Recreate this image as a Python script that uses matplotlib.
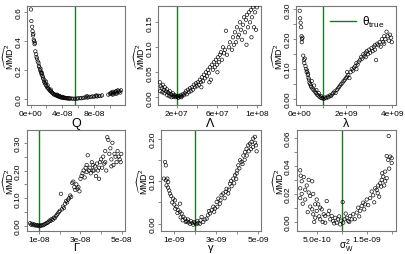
import numpy as np
import matplotlib
matplotlib.use("Agg")
import matplotlib.pyplot as plt
from matplotlib.lines import Line2D

plt.rcParams['font.family'] = ['Liberation Sans', 'DejaVu Sans']
plt.rcParams['mathtext.fontset'] = 'custom'
plt.rcParams['mathtext.rm'] = 'Liberation Sans'
plt.rcParams['mathtext.it'] = 'Liberation Sans:italic'
plt.rcParams['mathtext.bf'] = 'Liberation Sans:bold'

# ---------------- data (x in panel units, y = MMD^2 estimate) ----------------
# Q (x in 1e-8)
q_pts = [(0.05,0.62),(0.1,0.54),(0.2,0.50),(0.25,0.47),(0.3,0.44),(0.35,0.45),(0.4,0.41),(0.45,0.40),
         (0.5,0.38),(0.55,0.39),(0.6,0.33),(0.7,0.31),(0.75,0.29),(0.8,0.28),(0.9,0.26),(1.0,0.25),
         (1.05,0.23),(1.1,0.22),(1.2,0.20),(1.25,0.21),(1.3,0.19),(1.35,0.18),(1.4,0.17),(1.5,0.16),
         (1.45,0.18),(1.55,0.15),(1.6,0.14),(1.7,0.12),(1.75,0.13),(1.8,0.11),(1.9,0.10),(2.0,0.09),
         (2.1,0.08),(2.2,0.075),(2.3,0.07),(2.4,0.06),(2.5,0.055),(2.6,0.05),(2.7,0.045),(2.8,0.04),
         (2.9,0.035),(3.0,0.03),(2.55,0.065),(2.15,0.095),(1.95,0.12),(3.1,0.03),(3.2,0.025),(3.3,0.028),
         (3.4,0.02),(3.5,0.02),(3.6,0.015),(3.7,0.018),(3.8,0.012),(3.9,0.01),(4.0,0.012),(4.1,0.008),
         (4.2,0.01),(4.3,0.006),(4.4,0.008),(4.5,0.005),(4.6,0.006),(4.7,0.004),(4.8,0.005),(4.9,0.003),
         (5.0,0.004),(5.2,0.003),(5.4,0.002),(5.6,0.002),(3.35,0.03),(3.65,0.022),(4.05,0.015),
         (5.8,0.003),(6.0,0.004),(6.2,0.006),(6.4,0.005),(6.6,0.008),(6.8,0.01),(7.0,0.012),(7.2,0.01),
         (7.4,0.015),(7.6,0.013),(7.8,0.018),(8.0,0.016),(8.2,0.02),(8.4,0.018),(8.6,0.022),(8.8,0.02),
         (9.0,0.025),(7.1,0.02),(8.3,0.025),(9.8,0.03),(10.0,0.035),(10.1,0.04),(10.2,0.045),(10.3,0.035),
         (10.4,0.05),(10.5,0.04),(10.6,0.045),(10.7,0.05),(10.8,0.055),(10.9,0.04),(11.0,0.06),(11.1,0.05),
         (11.2,0.055),(11.3,0.045),(11.4,0.06),(10.35,0.03),(10.75,0.035)]
# Lambda (x in 1e7)
lam_pts = [(0.3,0.03),(0.4,0.022),(0.5,0.018),(0.6,0.025),(0.7,0.015),(0.8,0.02),(0.9,0.012),(1.0,0.016),
           (1.1,0.01),(1.2,0.008),(1.3,0.012),(1.4,0.006),(1.5,0.005),(1.6,0.008),(1.7,0.003),(1.8,0.004),
           (1.9,0.002),(2.0,0.001),(2.1,0.002),(2.2,0.003),(2.3,0.001),(2.4,0.004),(2.5,0.002),(2.6,0.006),
           (2.7,0.004),(2.8,0.008),(0.35,0.012),(0.55,0.01),(0.75,0.008),(1.05,0.004),(1.25,0.002),
           (1.45,0.0),(1.65,0.001),(1.85,0.0),(2.15,-0.001),(2.45,0.0),(2.9,0.012),(3.0,0.006),
           (3.1,0.015),(3.2,0.01),(3.3,0.018),(3.4,0.012),(3.5,0.02),(3.6,0.015),(3.7,0.025),(3.8,0.02),
           (3.9,0.028),(4.0,0.022),(4.1,0.03),(4.2,0.025),(4.3,0.035),(4.4,0.03),(4.5,0.04),(4.6,0.032),
           (4.7,0.045),(4.8,0.038),(4.9,0.05),(5.0,0.042),(5.1,0.055),(5.2,0.048),(5.3,0.06),(5.4,0.035),
           (5.5,0.065),(5.6,0.055),(5.7,0.07),(5.8,0.06),(5.9,0.075),(6.0,0.065),(6.1,0.08),(6.2,0.07),
           (6.3,0.085),(6.4,0.09),(6.5,0.075),(6.6,0.1),(6.7,0.088),(6.8,0.095),(6.9,0.133),(7.0,0.085),
           (4.45,0.02),(5.25,0.03),(6.05,0.05),(7.2,0.1),(7.3,0.11),(7.5,0.095),(7.6,0.12),(7.7,0.105),
           (7.8,0.13),(7.9,0.11),(8.0,0.14),(8.1,0.12),(8.2,0.125),(8.3,0.15),(8.4,0.135),(8.5,0.115),
           (8.6,0.145),(8.7,0.16),(8.8,0.13),(8.9,0.155),(9.0,0.165),(9.1,0.14),(9.2,0.17),(9.3,0.15),
           (9.4,0.175),(9.5,0.16),(9.6,0.18),(9.7,0.14),(9.8,0.17),(9.9,0.135),(10.0,0.18),(9.45,0.12),
           (8.95,0.105)]
# lambda (x in 1e9)
lmb_pts = [(0.0,0.295),(0.02,0.27),(0.04,0.255),(0.06,0.24),(0.08,0.21),(0.1,0.2),(0.09,0.19),(0.12,0.205),
           (0.15,0.145),(0.18,0.13),(0.2,0.12),(0.22,0.135),(0.25,0.11),(0.28,0.1),(0.3,0.09),(0.32,0.095),
           (0.35,0.08),(0.38,0.07),(0.4,0.065),(0.42,0.055),(0.45,0.05),(0.48,0.045),(0.5,0.04),(0.55,0.035),
           (0.6,0.03),(0.65,0.025),(0.7,0.02),(0.75,0.015),(0.8,0.012),(0.85,0.008),(0.9,0.005),(0.95,0.003),
           (1.0,0.002),(0.52,0.06),(0.62,0.045),(0.72,0.03),(0.82,0.02),(0.92,0.01),(0.36,0.085),
           (1.05,0.001),(1.1,0.005),(1.15,0.003),(1.2,0.008),(1.25,0.006),(1.3,0.012),(1.35,0.01),(1.4,0.015),
           (1.45,0.02),(1.5,0.025),(1.55,0.02),(1.6,0.03),(1.65,0.035),(1.7,0.04),(1.75,0.045),(1.8,0.05),
           (1.85,0.055),(1.9,0.06),(1.95,0.065),(2.0,0.07),(2.05,0.075),(2.1,0.08),(2.15,0.07),(2.2,0.09),
           (2.25,0.1),(2.3,0.095),(2.35,0.105),(2.4,0.11),(2.45,0.12),(2.5,0.115),(2.55,0.125),(2.6,0.13),
           (2.65,0.14),(2.7,0.135),(2.75,0.15),(2.8,0.145),(2.85,0.155),(2.9,0.16),(2.95,0.15),(3.0,0.165),
           (3.05,0.155),(3.1,0.17),(3.15,0.16),(3.2,0.175),(3.25,0.165),(3.3,0.13),(3.35,0.185),(3.4,0.18),
           (3.45,0.19),(3.5,0.175),(3.55,0.2),(3.6,0.19),(3.65,0.21),(3.7,0.2),(3.75,0.225),(3.8,0.21),
           (3.85,0.195),(3.9,0.215),(3.95,0.205),(3.98,0.19),(2.05,0.09),(2.45,0.1),(2.85,0.14),(3.25,0.18),
           (3.65,0.185)]
# Gamma (x in 1e-8)
gam_pts = [(0.55,0.01),(0.6,0.005),(0.65,0.008),(0.7,0.003),(0.75,0.006),(0.8,0.002),(0.85,0.004),(0.9,0.001),
           (0.95,0.003),(1.0,0.0),(1.05,0.002),(1.1,0.001),(1.15,0.004),(1.2,0.003),(1.25,0.006),(1.3,0.008),
           (1.35,0.01),(1.4,0.012),(1.45,0.015),(1.5,0.02),(1.55,0.018),(1.6,0.025),(1.65,0.022),(1.7,0.03),
           (1.75,0.028),(1.8,0.035),(1.85,0.04),(1.9,0.045),(1.95,0.05),(2.0,0.055),(2.05,0.116),(2.1,0.06),
           (2.15,0.07),(2.2,0.065),(2.25,0.08),(2.3,0.09),(2.35,0.085),(2.4,0.095),(2.45,0.1),(2.5,0.11),
           (2.55,0.105),(2.6,0.155),(2.65,0.16),(2.7,0.14),(2.75,0.13),(2.8,0.15),(2.85,0.135),(2.9,0.14),
           (2.95,0.125),(3.0,0.17),(3.05,0.18),(3.1,0.19),(3.15,0.2),(3.2,0.175),(3.25,0.21),(3.3,0.22),
           (3.35,0.255),(3.4,0.2),(3.45,0.21),(3.5,0.19),(3.55,0.23),(3.6,0.22),(3.65,0.2),(3.7,0.215),
           (3.75,0.18),(3.8,0.225),(3.85,0.2),(3.9,0.17),(3.95,0.23),(4.0,0.24),(4.05,0.21),(4.1,0.25),
           (4.15,0.225),(4.2,0.27),(4.25,0.2),(4.3,0.32),(4.35,0.31),(4.4,0.26),(4.45,0.28),(4.5,0.24),
           (4.55,0.3),(4.6,0.22),(4.65,0.26),(4.7,0.25),(4.75,0.23),(4.8,0.27),(4.85,0.25),(4.9,0.24),
           (4.95,0.23),(4.98,0.26),(3.3,0.195),(3.6,0.2),(3.9,0.21),(4.2,0.23),(4.5,0.215)]
# gamma (x in 1e-9)
gmm_pts = [(0.56,0.145),(0.6,0.137),(0.51,0.106),(0.6,0.102),(0.67,0.106),(0.71,0.098),(0.63,0.09),
           (0.76,0.078),(0.79,0.071),(0.95,0.059),(1.03,0.055),(1.27,0.047),(1.11,0.04),(1.19,0.032),
           (1.27,0.028),(1.35,0.024),(1.43,0.016),(1.51,0.012),(1.59,0.006),(1.67,0.003),(1.75,0.0),
           (1.9,-0.002),(2.06,-0.001),(2.22,0.0),(2.3,0.016),(2.38,0.004),(2.54,0.012),(2.7,0.024),
           (2.78,0.032),(2.86,0.04),(2.94,0.036),(3.02,0.051),(3.1,0.059),(3.17,0.047),(3.25,0.067),
           (3.33,0.071),(3.49,0.082),(3.57,0.071),(3.65,0.094),(3.73,0.088),(3.81,0.106),(3.89,0.114),
           (3.97,0.118),(4.05,0.137),(4.13,0.149),(4.2,0.145),(4.29,0.16),(4.37,0.168),(4.44,0.176),
           (4.52,0.184),(4.6,0.188),(4.68,0.192),(4.76,0.2),(4.84,0.204),(4.89,0.184),(4.92,0.17),
           (1.0,0.045),(1.15,0.025),(1.3,0.015),(1.4,0.008),(1.55,0.004),(1.65,0.01),(1.8,0.006),(1.85,0.002),
           (1.95,0.004),(2.0,0.001),(2.1,0.006),(2.15,0.002),(2.25,0.008),(2.45,0.01),(2.6,0.02),(2.65,0.03),
           (2.9,0.028),(3.05,0.04),(3.2,0.055),(3.4,0.06),(3.45,0.075),(3.6,0.08),(3.7,0.1),(3.85,0.095),
           (3.95,0.105),(4.0,0.125),(4.1,0.13),(4.25,0.14),(4.35,0.15),(4.45,0.16),(4.55,0.17),(4.65,0.175),
           (4.75,0.18),(4.85,0.19),(0.7,0.085),(0.85,0.065),(0.9,0.05),(1.05,0.035)]
# sigma_W^2 (x in 1e-10)
sig_pts = [(19.4,0.0612),(1.7,0.0368),(1.8,0.033),(2.4,0.032),(3.4,0.030),(4.1,0.029),(2.0,0.029),
           (1.7,0.024),(2.7,0.023),(3.4,0.021),(2.0,0.020),(1.7,0.017),(2.7,0.016),(3.7,0.0185),(4.3,0.020),
           (5.0,0.016),(5.3,0.0126),(5.7,0.0102),(4.7,0.0126),(6.0,0.009),(5.0,0.0079),(4.1,0.009),
           (6.4,0.0055),(6.7,0.0043),(7.0,0.0149),(7.3,0.0055),(7.7,0.0019),(8.0,0.0043),(8.3,0.0007),
           (8.7,0.003),(9.0,-0.0005),(9.3,0.0019),(9.7,-0.0017),(4.7,0.0031),(4.3,0.0055),(3.7,0.011),
           (5.7,0.0019),(6.7,-0.0005),(10.2,0.0142),(10.3,-0.0005),(11.0,0.003),(11.3,0.0007),(11.7,0.0043),
           (12.0,0.0019),(12.3,0.0055),(13.0,0.0067),(13.3,0.0102),(13.7,0.008),(14.0,0.0114),(14.3,0.0138),
           (14.7,0.0126),(15.0,0.016),(15.7,0.017),(16.0,0.0217),(16.3,0.019),(16.7,0.024),(17.0,0.0229),
           (17.3,0.026),(17.7,0.0276),(18.0,0.030),(18.1,0.0347),(18.3,0.0323),(18.7,0.0359),(18.7,0.029),
           (19.0,0.0312),(19.3,0.0442),(19.7,0.0466),(20.0,0.0454),(19.0,0.047),(17.9,0.0252),(17.2,0.0205),
           (3.0,0.026),(2.2,0.013),(3.2,0.007),(4.5,0.0),(5.5,0.004),(6.2,0.0),(7.5,0.008),(8.5,-0.001),
           (9.5,0.004),(9.9,0.001),(10.6,0.002),(10.8,0.006),(11.5,0.0),(12.6,0.002),(13.5,0.004),(14.5,0.009),
           (15.3,0.012),(16.5,0.014),(17.5,0.018),(18.5,0.026),(19.5,0.038),(20.0,0.042)]

# true parameter values
true_vals = [5.6e-8, 2e7, 1e9, 1e-8, 2e-9, 1e-9]
scales = [1e-8, 1e7, 1e9, 1e-8, 1e-9, 1e-10]
xlabels = ['Q', '\u039b', '\u03bb', '\u0393', '\u03b3', r'$\mathrm{\sigma}^2_\mathrm{W}$']

x_ticks = [[0, 2e-8, 4e-8, 6e-8, 8e-8, 1e-7],
           [2e7, 4e7, 6e7, 8e7, 1e8],
           [0, 1e9, 2e9, 3e9, 4e9],
           [1e-8, 2e-8, 3e-8, 4e-8, 5e-8],
           [1e-9, 2e-9, 3e-9, 4e-9, 5e-9],
           [5e-10, 1e-9, 1.5e-9, 2e-9]]
x_ticklabels = [['0e+00', '', '4e-08', '', '8e-08', ''],
                ['2e+07', '', '6e+07', '', '1e+08'],
                ['0e+00', '', '2e+09', '', '4e+09'],
                ['1e-08', '', '3e-08', '', '5e-08'],
                ['1e-09', '', '3e-09', '', '5e-09'],
                ['5.0e-10', '', '1.5e-09', '']]
y_ticks = [[0.0, 0.2, 0.4, 0.6],
           [0.0, 0.05, 0.10, 0.15],
           [0.0, 0.05, 0.10, 0.15, 0.20, 0.25, 0.30],
           [0.0, 0.05, 0.10, 0.15, 0.20, 0.25, 0.30],
           [0.0, 0.05, 0.10, 0.15, 0.20],
           [0.0, 0.01, 0.02, 0.03, 0.04, 0.05, 0.06]]
y_ticklabels = [['0.0', '0.2', '0.4', '0.6'],
                ['0.00', '0.05', '0.10', '0.15'],
                ['0.00', '', '0.10', '', '0.20', '', '0.30'],
                ['0.00', '', '0.10', '', '0.20', '', '0.30'],
                ['0.00', '', '0.10', '', '0.20'],
                ['0.00', '', '0.02', '', '0.04', '', '0.06']]
x_lims = [(-0.45e-8, 11.9e-8), (0.15e7, 10.4e7), (-0.16e9, 4.16e9),
          (0.39e-8, 5.16e-8), (0.367e-9, 5.13e-9), (1.0e-10, 20.86e-10)]
y_lims = [(-0.0415, 0.644), (-0.0155, 0.1826), (-0.02, 0.311),
          (-0.018, 0.346), (-0.017, 0.22), (-0.0064, 0.0655)]
panels = [q_pts, lam_pts, lmb_pts, gam_pts, gmm_pts, sig_pts]

# axes rectangles in pixels (left, top, right, bottom)
W, H = 406, 255
rects_px = [(27, 7, 125, 106), (158.3, 7, 261, 106), (296, 7, 396, 106),
            (26.7, 131, 125, 232), (161, 131, 261, 232), (296.7, 131, 396, 232)]

fig = plt.figure(figsize=(W / 100, H / 100), dpi=100)
frame_col = '#777777'
green = '#1b7a1b'

for i in range(6):
    l, t, r, b = rects_px[i]
    ax = fig.add_axes([l / W, (H - b) / H, (r - l) / W, (b - t) / H])
    xs, ys = zip(*panels[i])
    xs = np.array(xs) * scales[i]
    ys = np.array(ys)
    ax.scatter(xs, ys, s=6, facecolors='none', edgecolors='black', linewidths=0.45, zorder=3)
    ax.axvline(true_vals[i], color=green, lw=1.0, zorder=2)
    ax.set_xlim(*x_lims[i])
    ax.set_ylim(*y_lims[i])
    ax.set_xticks(x_ticks[i])
    ax.set_xticklabels(x_ticklabels[i])
    ax.set_yticks(y_ticks[i])
    ax.set_yticklabels(y_ticklabels[i], rotation=90, va='center')
    ax.tick_params(axis='both', direction='out', length=2.2, width=0.6, color=frame_col,
                   labelsize=6, pad=1.2)
    for sp in ax.spines.values():
        sp.set_color(frame_col)
        sp.set_linewidth(0.8)
    if i == 5:
        ax.set_xlabel(xlabels[i], fontsize=7, labelpad=-4.5)
    elif i >= 3:
        ax.set_xlabel(xlabels[i], fontsize=8, labelpad=-0.3)
    else:
        ax.set_xlabel(xlabels[i], fontsize=9, labelpad=0)
    ax.set_ylabel(r'$\widehat{\mathrm{MMD}}^2$', fontsize=6.5, labelpad=0)
    ax.yaxis.set_label_coords(-0.108, 0.5)
    if i == 2:
        h = Line2D([], [], color=green, lw=1.0)
        ax.legend([h], [r'$\mathrm{\theta}_{\mathrm{true}}$'], loc='upper left',
                  bbox_to_anchor=(0.26, 1.0), frameon=False, fontsize=8.5,
                  handlelength=2.2, handletextpad=0.5, borderaxespad=0.3)

fig.savefig('out.png', dpi=100)
